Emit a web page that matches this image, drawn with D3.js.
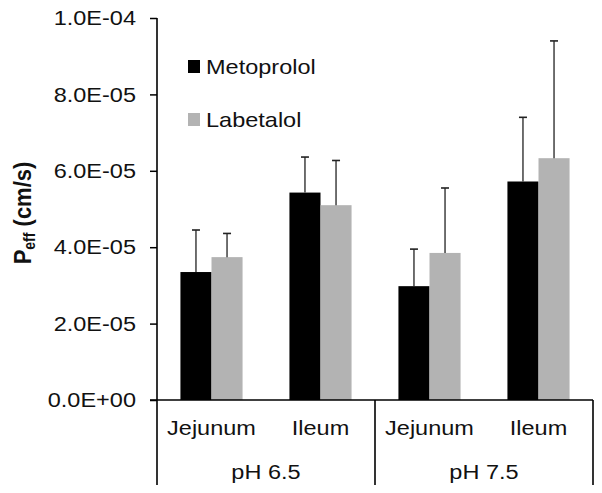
<!DOCTYPE html>
<html>
<head>
<meta charset="utf-8">
<script src="https://cdn.jsdelivr.net/npm/d3@7"></script>
<style>
	body{margin:0;background:#fff;}
	svg text{font-family:"Liberation Sans",Arial,sans-serif;fill:#111;}
</style>
</head>
<body>
<div id="app"></div>
<script>
// chart data
const segments = ["Jejunum", "Ileum", "Jejunum", "Ileum"];
const phGroups = ["pH 6.5", "pH 7.5"];
const series = ["Metoprolol", "Labetalol"];
const metoprolol = [3.35e-5, 5.43e-5, 2.98e-5, 5.72e-5];
const metoprololErr = [1.1e-5, 0.93e-5, 0.97e-5, 1.68e-5];
const labetalol = [3.74e-5, 5.1e-5, 3.85e-5, 6.33e-5];
const labetalolErr = [0.62e-5, 1.17e-5, 1.7e-5, 3.07e-5];
const yTicks = [0, 2e-5, 4e-5, 6e-5, 8e-5, 1e-4];

const colors = {"Metoprolol": "#000000", "Labetalol": "#b3b3b3"};
const sx = 1.12; // picture is a bit wider than tall, text gets stretched

const W = 602, H = 493;
const mLeft = 157, mRight = 593, mTop = 18, base = 400, mBottom = 485;

function sci(v){
	if(v === 0){ return "0.0E+00"; }
	let e = Math.floor(Math.log10(Math.abs(v)));
	let m = v / Math.pow(10, e);
	if(m >= 9.95){ m = m/10; e++; }
	let sign = e < 0 ? "-" : "+";
	let a = Math.abs(e);
	return m.toFixed(1) + "E" + sign + (a > 9 ? a : "0" + a);
}

const svg = d3.select("#app").append("svg")
	.attr("width", W).attr("height", H);

const y = d3.scaleLinear().domain([0, 1e-4]).range([base, mTop]);
const x0 = d3.scaleBand().domain(d3.range(segments.length)).range([mLeft, mRight])
	.paddingInner(0.43).paddingOuter(0.215);
const x1 = d3.scaleBand().domain(series).range([0, x0.bandwidth()]);

const rows = segments.map(function(s, i){
	return {
		i: i,
		vals: [
			{s: "Metoprolol", v: metoprolol[i], e: metoprololErr[i]},
			{s: "Labetalol", v: labetalol[i], e: labetalolErr[i]}
		]
	};
});

// bars
const g = svg.append("g");
const grp = g.selectAll("g.grp").data(rows).enter().append("g")
	.attr("class", "grp")
	.attr("transform", function(d){ return "translate(" + x0(d.i) + ",0)"; });

grp.selectAll("rect").data(function(d){ return d.vals; }).enter().append("rect")
	.attr("x", function(d){ return x1(d.s); })
	.attr("width", x1.bandwidth())
	.attr("y", function(d){ return y(d.v); })
	.attr("height", function(d){ return base - y(d.v); })
	.attr("fill", function(d){ return colors[d.s]; });

// error bars (upper only)
const eb = grp.selectAll("g.err").data(function(d){ return d.vals; }).enter().append("g")
	.attr("class", "err")
	.attr("stroke", "#222").attr("stroke-width", 1.3);
eb.append("line")
	.attr("x1", function(d){ return x1(d.s) + x1.bandwidth()/2; })
	.attr("x2", function(d){ return x1(d.s) + x1.bandwidth()/2; })
	.attr("y1", function(d){ return y(d.v); })
	.attr("y2", function(d){ return y(d.v + d.e); });
eb.append("line")
	.attr("x1", function(d){ return x1(d.s) + x1.bandwidth()/2 - 4; })
	.attr("x2", function(d){ return x1(d.s) + x1.bandwidth()/2 + 4; })
	.attr("y1", function(d){ return y(d.v + d.e); })
	.attr("y2", function(d){ return y(d.v + d.e); })
	.attr("stroke-width", 1.6);

// y axis
const yAxis = svg.append("g")
	.attr("transform", "translate(" + mLeft + ",0)")
	.call(d3.axisLeft(y).tickValues(yTicks).tickFormat(sci).tickSize(7).tickPadding(14));
yAxis.select(".domain").remove();
yAxis.selectAll(".tick line").attr("stroke", "#000").attr("stroke-width", 1.5);
yAxis.selectAll(".tick text")
	.attr("font-size", 21)
	.attr("x", null)
	.attr("transform", "translate(-21,0) scale(" + sx + ",1)");

// axis frame lines
const mid = (mLeft + mRight) / 2;
const frame = svg.append("g").attr("stroke", "#000").attr("stroke-width", 1.6);
frame.append("line").attr("x1", mLeft).attr("x2", mLeft).attr("y1", mTop).attr("y2", mBottom);
frame.append("line").attr("x1", mLeft - 7).attr("x2", mRight).attr("y1", base).attr("y2", base);
[mid, mRight].forEach(function(xx){
	frame.append("line").attr("x1", xx).attr("x2", xx).attr("y1", base).attr("y2", mBottom);
});

function stretchedText(parent, tx, ty, str, size, anchor){
	return parent.append("text")
		.attr("transform", "translate(" + tx + "," + ty + ") scale(" + sx + ",1)")
		.attr("font-size", size)
		.attr("text-anchor", anchor || "middle")
		.text(str);
}

// category labels
segments.forEach(function(s, i){
	stretchedText(svg, x0(i) + x0.bandwidth()/2, 435, s, 21);
});
phGroups.forEach(function(p, i){
	let cx = i === 0 ? (mLeft + mid)/2 : (mid + mRight)/2;
	stretchedText(svg, cx, 479, p, 21);
});

// legend
const legY = [60, 113];
series.forEach(function(s, i){
	svg.append("rect")
		.attr("x", 188).attr("y", legY[i])
		.attr("width", 12).attr("height", 13)
		.attr("fill", colors[s]);
	stretchedText(svg, 206, legY[i] + 13.5, s, 21, "start");
});

// y title
const yt = svg.append("text")
	.attr("transform", "translate(31,213) scale(" + sx + ",1) rotate(-90)")
	.attr("text-anchor", "middle")
	.attr("font-size", 22)
	.attr("font-weight", "bold");
yt.append("tspan").text("P");
yt.append("tspan").attr("font-size", 14).attr("dy", 4).text("eff");
yt.append("tspan").attr("dy", -4).text(" (cm/s)");
</script>
</body>
</html>
